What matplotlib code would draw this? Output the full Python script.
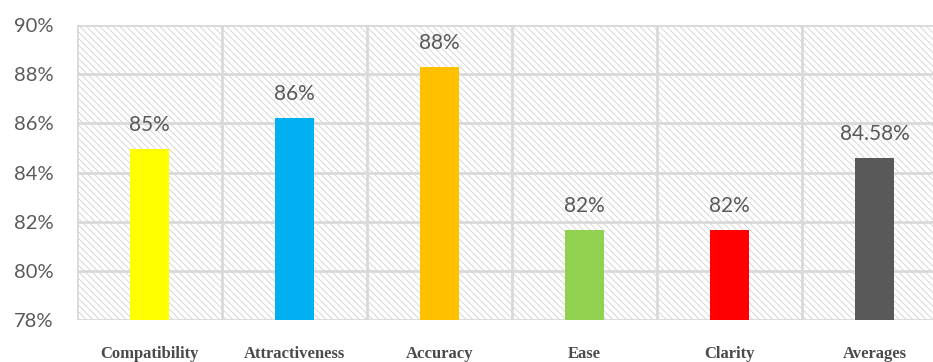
import matplotlib
matplotlib.use("Agg")
import matplotlib.pyplot as plt
from matplotlib.patches import Rectangle
import numpy as np

# -- Donnees -------------------------------------------------------------------
categories = ["Compatibility", "Attractiveness", "Accuracy", "Ease", "Clarity", "Averages"]
valeurs    = [84.95, 86.22, 88.29, 81.65, 81.65, 84.58]
etiquettes = ["85%", "86%", "88%", "82%", "82%", "84.58%"]
couleurs   = ["#FFFF00", "#00B0F0", "#FFC000", "#92D050", "#FF0000", "#595959"]
y_ticks    = [78, 80, 82, 84, 86, 88, 90]

GRIS_GRILLE = "#d9d9d9"
GRIS_TEXTE  = "#595959"

plt.rcParams["hatch.linewidth"] = 0.5

fig = plt.figure(figsize=(9.33, 3.62), dpi=100)
ax = fig.add_axes([77/933, 42/362, 870/933, 295/362])

x = np.arange(len(categories))
ax.set_xlim(-0.5, len(categories) - 0.5)
ax.set_ylim(78, 90)

# fond hachure
fond = Rectangle((0, 0), 1, 1, transform=ax.transAxes, facecolor="white",
                 edgecolor="#c8c8c8", linewidth=0, hatch="\\" * 5, zorder=0)
ax.add_patch(fond)

ax.bar(x, valeurs, width=0.27, color=couleurs, zorder=3)

for xi, v, lab in zip(x, valeurs, etiquettes):
    ax.annotate(lab, (xi, v), xytext=(0, 13), textcoords="offset points",
                ha="center", va="baseline", fontsize=15, family="Lato",
                color=GRIS_TEXTE, zorder=4)

# grille
ax.set_yticks(y_ticks)
ax.set_yticklabels([f"{t}%" for t in y_ticks], family="Lato", fontsize=14.5, color=GRIS_TEXTE)
ax.set_xticks(x)
ax.set_xticklabels(categories, family="Liberation Serif", fontweight="bold",
                   fontsize=12, color="#4a4a4a")
ax.set_xticks(np.arange(len(categories) + 1) - 0.5, minor=True)
ax.tick_params(axis="x", which="both", length=0, pad=19)
ax.tick_params(axis="y", length=0, pad=17)
ax.grid(True, axis="y", color=GRIS_GRILLE, linewidth=2, zorder=1)
ax.grid(True, axis="x", which="minor", color=GRIS_GRILLE, linewidth=2, zorder=1)
ax.grid(False, axis="x", which="major")
ax.set_axisbelow(True)
for s in ax.spines.values():
    s.set_visible(False)

plt.savefig("out.png", dpi=100)
plt.close()
